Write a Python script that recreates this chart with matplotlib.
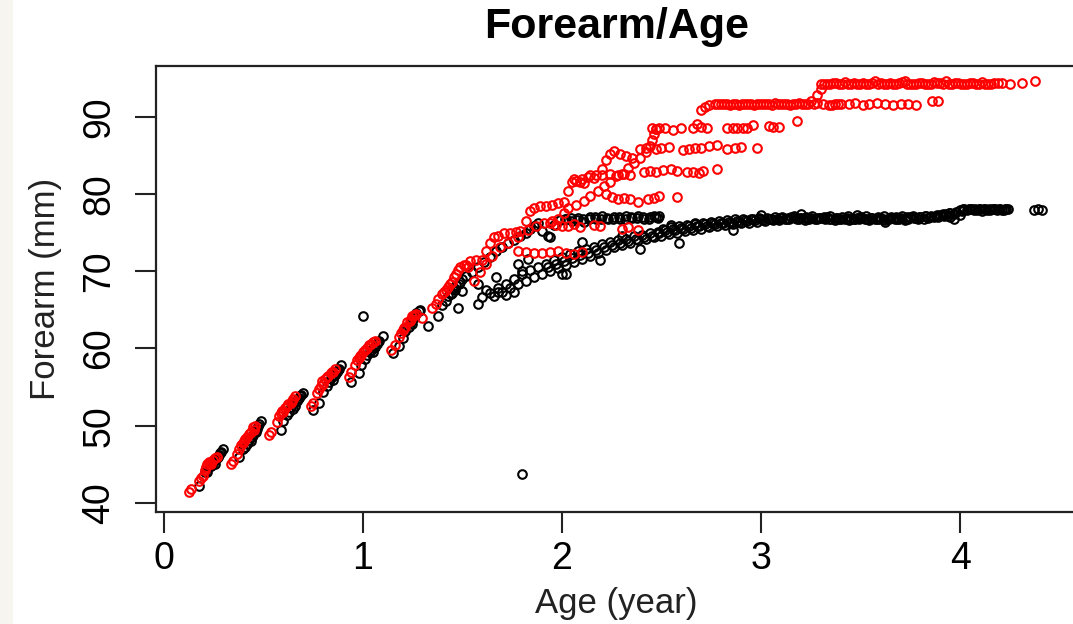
import matplotlib.pyplot as plt
from matplotlib.patches import Rectangle

plt.rcParams['font.family'] = ['Liberation Sans', 'DejaVu Sans']

# ---- data (age in years, forearm in mm) ----
# juvenile phase, both groups overlap
black_age_early = [0.18, 0.21, 0.23, 0.25, 0.26, 0.27, 0.28, 0.29, 0.30, 0.24, 0.22,
                   0.38, 0.40, 0.42, 0.43, 0.45, 0.46, 0.47, 0.48, 0.49, 0.44, 0.41,
                   0.59, 0.60, 0.62, 0.63, 0.64, 0.66, 0.67, 0.68, 0.69, 0.70, 0.65,
                   0.75, 0.78, 0.80, 0.82, 0.83, 0.84, 0.86, 0.87, 0.88, 0.89, 0.85,
                   0.94, 0.98, 0.99, 1.01, 1.02, 1.04, 1.06, 1.07, 1.08, 1.10, 1.00, 1.05,
                   1.15, 1.18, 1.20, 1.21, 1.23, 1.24, 1.26, 1.27, 1.29, 1.33, 1.25,
                   1.38, 1.40, 1.42, 1.43, 1.45, 1.46, 1.47, 1.49, 1.48, 1.50,
                   0.255, 0.275, 0.285, 0.445, 0.465, 0.475, 0.655, 0.675, 0.685,
                   0.845, 0.865, 0.875, 1.035, 1.055, 1.075, 1.245, 1.265, 1.285,
                   1.445, 1.465, 1.485]
black_fa_early = [42.2, 44.0, 44.6, 45.2, 45.0, 45.8, 46.2, 46.6, 47.0, 44.8, 44.0,
                  45.9, 47.0, 47.6, 48.2, 48.8, 49.4, 49.6, 50.2, 50.6, 48.0, 47.2,
                  49.5, 50.6, 51.4, 51.8, 52.4, 52.6, 53.2, 53.6, 54.0, 54.3, 52.2,
                  52.0, 53.0, 54.4, 55.2, 55.6, 56.2, 56.6, 57.0, 57.4, 57.9, 55.9,
                  55.6, 56.8, 57.8, 58.6, 59.2, 59.8, 60.2, 60.6, 61.0, 61.6, 64.2, 59.6,
                  59.4, 60.3, 61.4, 62.2, 62.8, 63.4, 64.0, 64.6, 65.0, 62.9, 63.2,
                  64.2, 65.6, 66.2, 66.8, 67.2, 67.8, 68.2, 68.6, 65.3, 69.0,
                  45.4, 46.0, 46.5, 48.6, 49.2, 49.9, 52.9, 53.4, 53.9,
                  56.4, 56.9, 57.2, 59.5, 60.0, 60.8, 63.7, 64.3, 64.8,
                  67.0, 67.6, 68.4]

red_age_early = [0.13, 0.14, 0.18, 0.20, 0.21, 0.22, 0.23, 0.25, 0.27, 0.24, 0.19,
                 0.34, 0.35, 0.37, 0.38, 0.40, 0.41, 0.42, 0.44, 0.45, 0.46, 0.39,
                 0.53, 0.54, 0.57, 0.58, 0.60, 0.61, 0.62, 0.64, 0.65, 0.66, 0.59,
                 0.74, 0.75, 0.77, 0.78, 0.80, 0.81, 0.82, 0.84, 0.85, 0.86, 0.79,
                 0.93, 0.94, 0.96, 0.97, 0.99, 1.00, 1.02, 1.03, 1.05, 1.06, 0.98,
                 1.14, 1.16, 1.18, 1.19, 1.21, 1.22, 1.24, 1.25, 1.27, 1.30, 1.20,
                 1.35, 1.37, 1.38, 1.40, 1.42, 1.43, 1.45, 1.46, 1.48, 1.49, 1.51, 1.53,
                 0.215, 0.235, 0.26, 0.405, 0.43, 0.455, 0.595, 0.625, 0.645,
                 0.795, 0.825, 0.845, 0.985, 1.01, 1.04, 1.205, 1.235, 1.26,
                 1.41, 1.44, 1.47]
red_fa_early = [41.4, 41.8, 42.8, 43.5, 44.3, 45.0, 45.3, 45.6, 46.0, 45.0, 43.2,
                45.0, 45.4, 46.3, 47.0, 47.8, 48.3, 48.6, 49.2, 49.8, 50.0, 47.5,
                48.8, 49.2, 50.5, 51.2, 51.8, 52.3, 52.6, 53.0, 53.4, 53.8, 51.6,
                52.6, 53.0, 54.2, 54.8, 55.4, 56.0, 56.3, 56.8, 57.0, 57.4, 55.2,
                56.3, 56.9, 57.8, 58.5, 59.2, 59.6, 60.0, 60.4, 60.8, 61.0, 58.8,
                59.8, 60.5, 61.5, 62.0, 62.8, 63.4, 63.8, 64.2, 64.5, 63.9, 62.4,
                65.2, 65.8, 66.4, 67.0, 67.6, 68.0, 68.6, 69.2, 70.2, 70.6, 70.8, 70.6,
                44.6, 45.2, 45.8, 48.0, 48.9, 49.5, 51.9, 52.8, 53.2,
                55.8, 56.5, 57.0, 59.0, 59.8, 60.6, 62.6, 63.6, 64.3,
                67.3, 68.3, 69.6]

# black upper branch (levels off near 77 mm at 2.5 yr)
black_age_upper = [1.52, 1.55, 1.58, 1.61, 1.64, 1.67, 1.70, 1.73, 1.76, 1.79, 1.82, 1.84,
                   1.86, 1.88, 1.90, 1.93, 1.96, 1.99, 2.02, 2.05, 2.08, 2.11, 2.14, 2.17,
                   2.20, 2.23, 2.26, 2.29, 2.32, 2.35, 2.38, 2.41, 2.44, 2.46, 2.48, 2.49,
                   2.015, 2.045, 2.075, 2.105, 2.135, 2.165, 2.195, 2.225, 2.255, 2.285,
                   2.315, 2.345, 2.375, 2.405, 2.435, 2.47]
black_fa_upper = [69.4, 69.9, 70.6, 71.2, 71.9, 72.6, 73.1, 73.6, 74.0, 74.5, 75.0, 75.5,
                  75.9, 76.3, 75.2, 74.6, 76.0, 76.6, 76.8, 76.5, 76.9, 76.4, 77.0, 76.8,
                  77.1, 76.7, 77.0, 76.8, 77.1, 76.9, 77.2, 76.8, 77.0, 77.2, 76.9, 77.1,
                  76.7, 76.9, 76.6, 76.8, 76.7, 77.0, 76.8, 76.9, 76.7, 77.0,
                  76.8, 77.0, 76.9, 77.0, 76.8, 77.0]

# black main band
black_age_main = [1.60, 1.64, 1.68, 1.72, 1.76, 1.80, 1.84, 1.88, 1.92, 1.96, 2.00, 2.04,
                  2.08, 2.12, 2.16, 2.20, 2.24, 2.28, 2.32, 2.36, 2.40, 2.44, 2.48, 2.52,
                  2.56, 2.60, 2.64, 2.68, 2.72, 2.76, 2.80, 2.84, 2.88, 2.92, 2.96, 3.00, 3.04,
                  1.66, 1.70, 1.74, 1.78, 1.82, 1.86, 1.90, 1.94, 1.98, 2.02, 2.06, 2.10,
                  2.14, 2.18, 2.22, 2.26, 2.30, 2.34, 2.38, 2.42, 2.46, 2.50, 2.54, 2.58,
                  2.62, 2.66, 2.70, 2.74, 2.78, 2.82, 2.86, 2.90, 2.94, 2.98, 3.02, 3.06,
                  1.93, 1.97, 2.01, 2.05, 2.09, 2.13, 2.17, 2.21, 2.25, 2.29, 2.33, 2.37,
                  2.41, 2.45, 2.49, 2.53, 2.57, 2.61, 2.65, 2.69, 2.73, 2.77, 2.81, 2.85,
                  2.89, 2.93, 2.97, 3.01, 3.05,
                  2.51, 2.55, 2.59, 2.63, 2.67, 2.71, 2.75, 2.79, 2.83, 2.87, 2.91, 2.95,
                  2.99, 3.03, 3.07,
                  1.50, 1.58, 1.58, 1.62, 1.67, 1.68, 1.72, 1.76, 1.78, 1.80, 1.83, 1.94,
                  2.00, 2.02, 2.19, 2.39, 2.59, 2.67, 2.86, 2.10, 2.30, 2.55, 3.00,
                  3.08, 3.10, 3.13, 3.15, 3.18, 3.20, 3.23, 3.25, 3.28, 3.30, 3.33, 3.35,
                  3.38, 3.40, 3.43, 3.45, 3.48, 3.50, 3.53, 3.55, 3.58, 3.60, 3.63, 3.65,
                  3.68, 3.70, 3.73, 3.75, 3.78, 3.80, 3.83, 3.85, 3.88, 3.90, 3.93, 3.95, 3.98,
                  3.09, 3.12, 3.14, 3.17, 3.19, 3.22, 3.24, 3.27, 3.29, 3.32, 3.34, 3.37,
                  3.39, 3.42, 3.44, 3.47, 3.49, 3.52, 3.54, 3.57, 3.59, 3.62, 3.64, 3.67,
                  3.69, 3.72, 3.74, 3.77, 3.79, 3.82, 3.84, 3.87, 3.89, 3.92, 3.94, 3.97,
                  3.105, 3.135, 3.165, 3.195, 3.225, 3.255, 3.285, 3.315, 3.345, 3.375,
                  3.405, 3.435, 3.465, 3.495, 3.525, 3.555, 3.585, 3.615, 3.645, 3.675,
                  3.705, 3.735, 3.765, 3.795, 3.825, 3.855, 3.885, 3.915, 3.945,
                  3.20, 3.48, 3.62, 3.95, 3.97, 4.00,
                  4.00, 4.02, 4.05, 4.07, 4.10, 4.12, 4.15, 4.17, 4.20, 4.22, 4.24,
                  4.01, 4.035, 4.06, 4.085, 4.11, 4.135, 4.16, 4.185, 4.21, 4.23,
                  4.015, 4.045, 4.075, 4.095, 4.125, 4.145, 4.175, 4.195, 4.225,
                  4.37, 4.39, 4.41, 1.80]
black_fa_main = [66.6, 67.2, 67.8, 68.4, 69.0, 69.6, 70.1, 70.6, 71.0, 71.4, 71.8, 72.2,
                 72.6, 72.9, 73.2, 73.5, 73.8, 74.0, 74.2, 74.5, 74.7, 74.9, 75.1, 75.3,
                 75.5, 75.6, 75.8, 75.9, 76.1, 76.2, 76.3, 76.4, 76.5, 76.6, 76.7, 76.8, 76.8,
                 66.8, 67.3, 67.8, 68.3, 68.8, 69.2, 69.6, 70.0, 70.4, 70.8, 71.2, 71.6,
                 72.0, 72.4, 72.8, 73.1, 73.4, 73.7, 74.0, 74.2, 74.4, 74.6, 74.8, 75.0,
                 75.2, 75.4, 75.5, 75.7, 75.8, 76.0, 76.1, 76.2, 76.3, 76.4, 76.5, 76.6,
                 70.5, 70.9, 71.3, 71.7, 72.1, 72.4, 72.8, 73.1, 73.4, 73.7, 73.9, 74.2,
                 74.4, 74.6, 74.9, 75.1, 75.3, 75.5, 75.6, 75.8, 75.9, 76.1, 76.2, 76.3,
                 76.4, 76.5, 76.6, 76.6, 76.7,
                 75.5, 75.7, 75.8, 76.0, 76.1, 76.3, 76.4, 76.5, 76.6, 76.7, 76.8, 76.8,
                 76.9, 76.9, 77.0,
                 67.5, 65.8, 68.4, 67.6, 69.2, 67.3, 66.9, 67.3, 71.0, 70.0, 71.6, 74.4,
                 69.6, 69.7, 71.4, 72.9, 73.7, 76.2, 75.3, 73.8, 74.6, 76.0, 77.3,
                 76.7, 76.9, 76.8, 77.0, 76.8, 76.9, 76.7, 76.9, 76.8, 76.9, 77.0, 76.8,
                 76.9, 76.7, 76.9, 76.8, 76.9, 77.0, 76.8, 76.9, 76.7, 76.9, 76.8, 77.0,
                 76.8, 76.9, 76.8, 77.0, 76.9, 77.0, 77.1, 77.0, 77.2, 77.3, 77.4, 77.6, 77.7,
                 76.6, 76.8, 76.7, 76.9, 76.7, 76.6, 76.8, 76.7, 76.9, 76.7, 76.8, 76.6,
                 76.7, 76.8, 76.6, 76.7, 76.8, 76.7, 76.6, 76.8, 76.7, 76.6, 76.7, 76.8,
                 76.7, 76.6, 76.8, 76.9, 76.7, 76.8, 76.9, 77.0, 77.0, 77.1, 77.2, 77.4,
                 77.0, 76.9, 77.1, 76.9, 77.0, 77.1, 76.9, 77.0, 77.2, 76.9,
                 77.0, 77.1, 76.8, 77.0, 77.1, 76.9, 77.0, 77.2, 76.9, 77.0,
                 77.1, 77.0, 77.1, 77.0, 77.2, 77.1, 77.3, 77.4, 77.5,
                 77.4, 77.3, 76.4, 77.0, 76.8, 77.3,
                 77.9, 78.0, 78.0, 77.9, 78.0, 78.0, 77.9, 78.0, 78.0, 77.9, 78.0,
                 77.8, 77.9, 78.0, 77.9, 77.8, 77.9, 78.0, 77.9, 77.9, 78.0,
                 78.1, 78.0, 78.1, 78.0, 78.1, 78.0, 78.1, 78.0, 78.1,
                 77.9, 78.0, 77.9, 43.7]

# red: rising diagonals towards the plateaus
red_age_rise = [1.52, 1.54, 1.57, 1.60, 1.62, 1.64, 1.66, 1.68, 1.71, 1.74, 1.77, 1.79,
                1.82, 1.84, 1.86, 1.89, 1.92, 1.95, 1.98, 2.01, 2.03, 2.05, 2.07, 2.10,
                2.13, 2.16, 2.20, 2.22, 2.24,
                1.56, 1.59, 1.62, 1.65, 1.69, 1.73, 1.78, 1.83, 1.87, 1.91, 1.95, 1.98,
                2.01, 2.03, 2.07, 2.11, 2.14, 2.18, 2.21, 2.24, 2.27, 2.30, 2.33, 2.36,
                2.39, 2.42, 2.44, 2.45, 2.46, 2.47,
                2.70, 2.72, 3.28, 3.30]
red_fa_rise = [70.8, 71.3, 71.4, 71.5, 72.6, 73.6, 74.4, 74.6, 75.0, 75.0, 75.1, 75.2,
               76.5, 77.8, 78.2, 78.4, 78.5, 78.6, 78.8, 79.0, 80.4, 81.5, 81.7, 82.0,
               82.2, 82.1, 83.2, 84.4, 85.2,
               68.8, 69.9, 71.0, 72.0, 73.1, 73.7, 74.4, 75.3, 75.8, 76.2, 76.5, 76.8,
               77.5, 78.2, 78.6, 79.1, 79.8, 80.4, 81.0, 81.6, 82.3, 82.6, 83.4, 84.0,
               84.6, 85.4, 86.2, 87.0, 87.8, 88.4,
               90.9, 91.3, 92.8, 93.6]

# red plateaus
red_age_flat = [3.30, 3.33, 3.36, 3.39, 3.42, 3.45, 3.48, 3.51, 3.54, 3.57, 3.60, 3.63,
                3.66, 3.69, 3.72, 3.75, 3.78, 3.81, 3.84, 3.87, 3.90, 3.93, 3.96, 3.99,
                4.02, 4.05, 4.08, 4.11, 4.14, 4.17, 4.21, 4.25, 4.31, 4.375,
                3.315, 3.345, 3.375, 3.405, 3.435, 3.465, 3.495, 3.525, 3.555, 3.585,
                3.615, 3.645, 3.675, 3.705, 3.735, 3.765, 3.795, 3.825, 3.855, 3.885,
                3.915, 3.945, 3.975, 4.005, 4.035, 4.065, 4.095, 4.125, 4.155, 4.19,
                2.74, 2.77, 2.80, 2.83, 2.86, 2.89, 2.92, 2.95, 2.98, 3.01, 3.04, 3.07,
                3.10, 3.13, 3.16, 3.19, 3.22, 3.25, 3.28, 3.31, 3.34, 3.37, 3.40, 3.44,
                3.47, 3.51, 3.54, 3.58, 3.62, 3.66, 3.70, 3.74, 3.78, 3.86, 3.89,
                2.785, 2.815, 2.845, 2.875, 2.905, 2.935, 2.965, 2.995, 3.025, 3.055,
                3.085, 3.115, 3.145, 3.175, 3.205, 3.235, 3.265, 3.355, 3.385,
                2.45, 2.47, 2.49, 2.52, 2.56, 2.60, 2.66, 2.68, 2.70, 2.73, 2.83, 2.86,
                2.88, 2.91, 2.93, 2.96, 3.04, 3.06, 3.09, 3.18,
                2.26, 2.29, 2.32, 2.35, 2.39, 2.42, 2.47, 2.50, 2.54, 2.61, 2.64, 2.67,
                2.70, 2.74, 2.78, 2.83, 2.87, 2.90, 2.98,
                2.06, 2.09, 2.11, 2.14, 2.17, 2.20, 2.24, 2.28, 2.31, 2.34, 2.41, 2.44,
                2.47, 2.51, 2.55, 2.58, 2.63, 2.66, 2.69, 2.71, 2.78,
                2.22, 2.25, 2.28, 2.31, 2.34, 2.38, 2.43, 2.46, 2.49, 2.58,
                1.94, 1.97, 2.00, 2.03, 2.06, 2.09, 2.16, 2.19, 2.30, 2.33, 2.38,
                1.78, 1.82, 1.86, 1.90, 1.94, 1.98, 2.02, 2.06, 2.10]
red_fa_flat = [94.3, 94.2, 94.4, 94.3, 94.5, 94.3, 94.2, 94.4, 94.3, 94.6, 94.4, 94.2,
               94.3, 94.4, 94.6, 94.3, 94.2, 94.4, 94.3, 94.5, 94.4, 94.6, 94.3, 94.4,
               94.2, 94.4, 94.3, 94.5, 94.3, 94.4, 94.4, 94.3, 94.4, 94.6,
               94.2, 94.3, 94.4, 94.2, 94.3, 94.4, 94.3, 94.2, 94.4, 94.3,
               94.2, 94.4, 94.3, 94.5, 94.2, 94.3, 94.4, 94.2, 94.3, 94.4,
               94.3, 94.2, 94.4, 94.3, 94.2, 94.4, 94.3, 94.2, 94.3, 94.4,
               91.5, 91.6, 91.7, 91.6, 91.7, 91.5, 91.6, 91.7, 91.6, 91.7, 91.6, 91.8,
               91.6, 91.7, 91.6, 91.8, 91.6, 92.0, 91.8, 91.6, 91.5, 91.7, 91.6, 91.6,
               91.8, 91.5, 91.7, 91.8, 91.6, 91.5, 91.7, 91.6, 91.5, 92.0, 92.1,
               91.6, 91.7, 91.5, 91.6, 91.7, 91.6, 91.5, 91.7, 91.6, 91.5,
               91.7, 91.6, 91.5, 91.7, 91.6, 91.7, 91.6, 91.5, 91.6,
               88.6, 88.4, 88.6, 88.5, 88.3, 88.5, 88.6, 89.0, 88.7, 88.6, 88.5, 88.6,
               88.5, 88.6, 88.5, 88.9, 88.8, 88.7, 88.7, 89.4,
               85.6, 85.2, 84.9, 84.7, 85.8, 85.9, 85.8, 86.0, 86.1, 85.7, 85.8, 85.9,
               86.0, 86.2, 86.3, 85.8, 85.9, 86.1, 85.9,
               82.0, 81.6, 81.4, 82.4, 82.5, 82.4, 82.6, 82.5, 82.6, 82.5, 82.8, 83.0,
               82.9, 83.1, 83.2, 83.0, 82.8, 82.9, 82.7, 83.0, 83.3,
               80.0, 79.6, 79.4, 79.5, 79.3, 78.9, 79.3, 79.5, 79.8, 79.6,
               76.2, 76.0, 75.8, 75.9, 76.1, 75.7, 76.0, 75.8, 75.5, 75.7, 75.4,
               72.6, 72.5, 72.4, 72.3, 72.5, 72.6, 72.4, 72.2, 72.5]

# ---- figure ----
fig = plt.figure(figsize=(10.73, 6.24), dpi=100)
fig.patches.append(Rectangle((0, 0), 13 / 1073, 1, transform=fig.transFigure,
                             facecolor='#f6f5ef', edgecolor='none', zorder=-1))
ax = fig.add_axes([156 / 1073, 112 / 624, 921 / 1073, 446 / 624])

mk = dict(linestyle='none', marker='o', markerfacecolor='none', markersize=6.2,
          markeredgewidth=1.5)
ax.plot(black_age_early, black_fa_early, markeredgecolor='black', **mk)
ax.plot(black_age_upper, black_fa_upper, markeredgecolor='black', **mk)
ax.plot(black_age_main, black_fa_main, markeredgecolor='black', **mk)
ax.plot(red_age_early, red_fa_early, markeredgecolor='red', **mk)
ax.plot(red_age_rise, red_fa_rise, markeredgecolor='red', **mk)
ax.plot(red_age_flat, red_fa_flat, markeredgecolor='red', **mk)

ax.set_xlim(-0.0377, 4.586)
ax.set_ylim(38.83, 96.57)
ax.set_xticks([0, 1, 2, 3, 4])
ax.set_yticks([40, 50, 60, 70, 80, 90])

for s in ax.spines.values():
    s.set_linewidth(1.6)
    s.set_color('#222222')
ax.tick_params(length=15, width=1.5, color='#222222', labelsize=27)
ax.tick_params(axis='x', pad=6)
ax.tick_params(axis='y', pad=13)
for lab in ax.get_yticklabels():
    lab.set_rotation(90)
    lab.set_va('center')

ax.set_xlabel('Age (year)', fontsize=25, color='#222222', labelpad=7)
ax.set_ylabel('Forearm (mm)', fontsize=25, color='#222222', labelpad=14)
fig.text(616.5 / 1073, 1 - 38 / 624, 'Forearm/Age', ha='center', va='baseline',
         fontsize=31, fontweight='bold')

fig.savefig('out.png', dpi=100)
